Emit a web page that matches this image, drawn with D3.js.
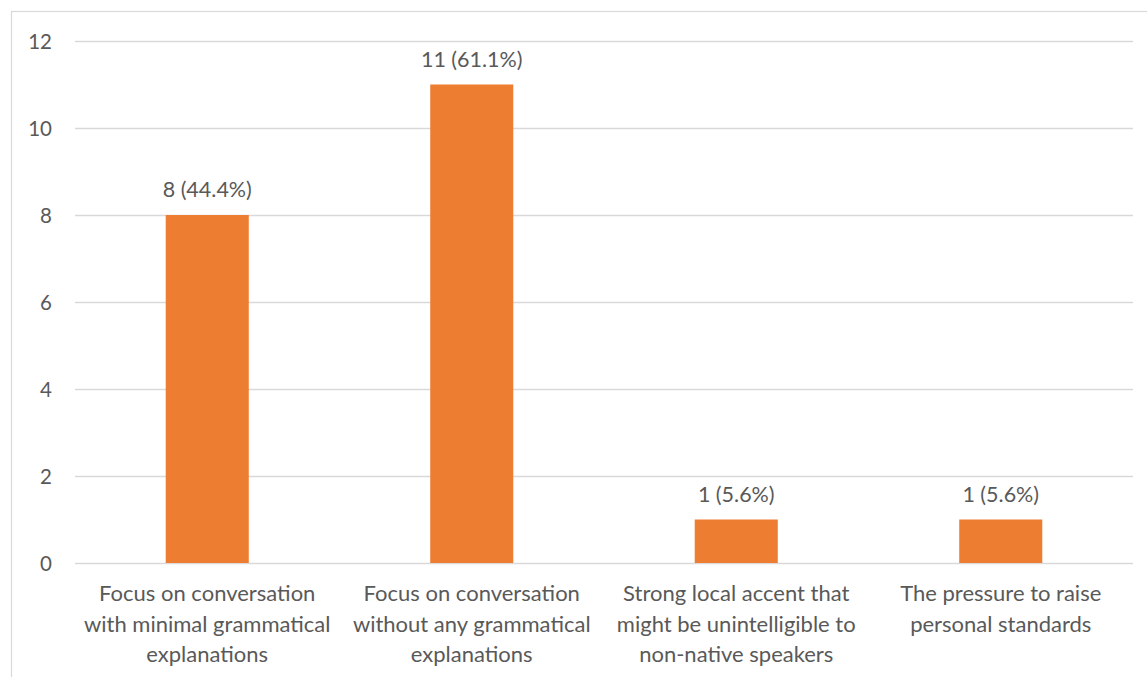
<!DOCTYPE html>
<html>
<head>
<meta charset="utf-8">
<script src="https://cdn.jsdelivr.net/npm/d3@7"></script>
<style>
  html, body { margin: 0; padding: 0; background: #fff; }
  svg { display: block; }
  text { font-family: Lato, "Open Sans", sans-serif; fill: #595959; }
</style>
</head>
<body>
<svg id="chart" width="1147" height="677"></svg>
<script>
// Survey responses: count per category and share of respondents
const categories = [
  ["Focus on conversation", "with minimal grammatical", "explanations"],
  ["Focus on conversation", "without any grammatical", "explanations"],
  ["Strong local accent that", "might be unintelligible to", "non-native speakers"],
  ["The pressure to raise", "personal standards"]
];
const counts = [8, 11, 1, 1];
const percents = ["44.4%", "61.1%", "5.6%", "5.6%"];
const yTicks = [0, 2, 4, 6, 8, 10, 12];

const svg = d3.select("#chart");
const W = 1147, H = 677;
const plot = { left: 75, right: 1133, top: 41, bottom: 563 };

// Outer chart frame
svg.append("rect")
  .attr("x", 11.5).attr("y", 11.5)
  .attr("width", W + 20).attr("height", H + 20)
  .attr("fill", "none").attr("stroke", "#d9d9d9").attr("stroke-width", 1.2);

const x = d3.scaleBand()
  .domain(d3.range(categories.length))
  .range([plot.left, plot.right])
  .paddingInner(0.686)
  .paddingOuter(0.343);

const y = d3.scaleLinear()
  .domain([0, 12])
  .range([plot.bottom, plot.top]);

// Horizontal gridlines
svg.append("g")
  .selectAll("line")
  .data(yTicks)
  .join("line")
  .attr("x1", plot.left).attr("x2", plot.right)
  .attr("y1", d => Math.round(y(d)) + 0.5)
  .attr("y2", d => Math.round(y(d)) + 0.5)
  .attr("stroke", "#d9d9d9").attr("stroke-width", 1.3);

// Y axis labels
const yAxis = d3.axisLeft(y).tickValues(yTicks).tickSize(0).tickPadding(0);
const yg = svg.append("g")
  .attr("transform", `translate(52,0)`)
  .call(yAxis);
yg.select(".domain").remove();
yg.selectAll("text")
  .attr("font-size", 20.5)
  .attr("dy", "0.35em")
  .style("font-family", "Lato, 'Open Sans', sans-serif")
  .attr("fill", "#595959");

// Bars
svg.append("g")
  .selectAll("rect")
  .data(counts)
  .join("rect")
  .attr("x", (d, i) => x(i))
  .attr("width", x.bandwidth())
  .attr("y", d => y(d))
  .attr("height", d => y(0) - y(d))
  .attr("fill", "#ed7d31");

// Value labels
svg.append("g")
  .selectAll("text")
  .data(counts)
  .join("text")
  .attr("x", (d, i) => x(i) + x.bandwidth() / 2)
  .attr("y", d => y(d) - 18)
  .attr("text-anchor", "middle")
  .attr("font-size", 21.5)
  .text((d, i) => `${d} (${percents[i]})`);

// Category labels, wrapped over several lines
const cat = svg.append("g")
  .selectAll("text")
  .data(categories)
  .join("text")
  .attr("text-anchor", "middle")
  .attr("font-size", 22);
cat.each(function(lines, i) {
  const t = d3.select(this);
  lines.forEach((ln, j) => {
    t.append("tspan")
      .attr("x", x(i) + x.bandwidth() / 2)
      .attr("y", 601 + j * 30.5)
      .text(ln);
  });
});
</script>
</body>
</html>
